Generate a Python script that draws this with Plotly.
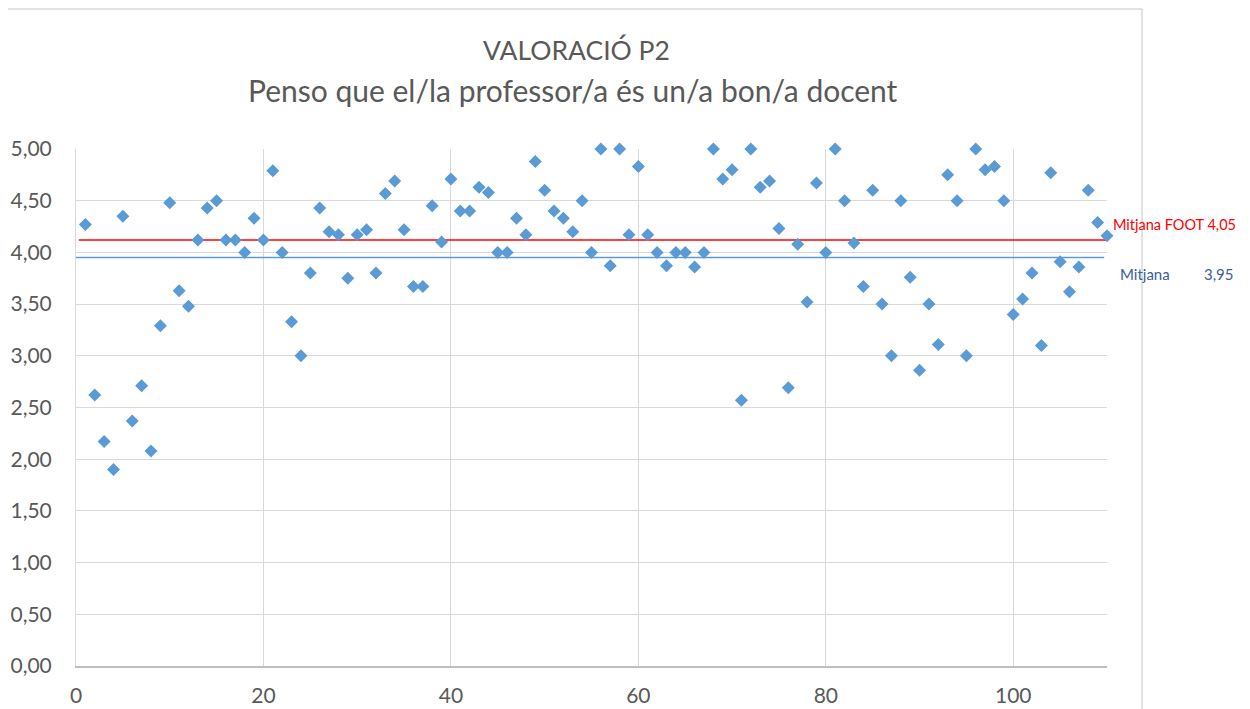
## Scatter of ratings for question P2 with the two mean lines

import plotly.graph_objects as go

# Ratings, one per respondent (x = 1..110)
ratings = [
    4.27, 2.62, 2.17, 1.90, 4.35, 2.37, 2.71, 2.08, 3.29, 4.48,
    3.63, 3.48, 4.12, 4.43, 4.50, 4.12, 4.12, 4.00, 4.33, 4.12,
    4.79, 4.00, 3.33, 3.00, 3.80, 4.43, 4.20, 4.17, 3.75, 4.17,
    4.22, 3.80, 4.57, 4.69, 4.22, 3.67, 3.67, 4.45, 4.10, 4.71,
    4.40, 4.40, 4.63, 4.58, 4.00, 4.00, 4.33, 4.17, 4.88, 4.60,
    4.40, 4.33, 4.20, 4.50, 4.00, 5.00, 3.87, 5.00, 4.17, 4.83,
    4.17, 4.00, 3.87, 4.00, 4.00, 3.86, 4.00, 5.00, 4.71, 4.80,
    2.57, 5.00, 4.63, 4.69, 4.23, 2.69, 4.08, 3.52, 4.67, 4.00,
    5.00, 4.50, 4.09, 3.67, 4.60, 3.50, 3.00, 4.50, 3.76, 2.86,
    3.50, 3.11, 4.75, 4.50, 3.00, 5.00, 4.80, 4.83, 4.50, 3.40,
    3.55, 3.80, 3.10, 4.77, 3.91, 3.62, 3.86, 4.60, 4.29, 4.16,
]
respondents = list(range(1, len(ratings) + 1))

# Mean lines (value drawn, label shown)
mean_foot_x = [0.3, 110.3]
mean_foot_y = [4.12, 4.12]
mean_foot_label = "Mitjana FOOT 4,05"
mean_x = [0, 109.7]
mean_y = [3.95, 3.95]
mean_label = "Mitjana"
mean_label_value = "3,95"

title_line1 = "VALORACIÓ P2"
title_line2 = "Penso que el/la professor/a és un/a bon/a docent"

FONT = "Lato"
GREY_TEXT = "#595959"

fig = go.Figure()

fig.add_trace(go.Scatter(
    x=mean_foot_x, y=mean_foot_y, mode="lines",
    line=dict(color="#FF0000", width=1.5), hoverinfo="skip",
))
fig.add_trace(go.Scatter(
    x=mean_x, y=mean_y, mode="lines",
    line=dict(color="#5B9BD5", width=1.5), hoverinfo="skip",
))
fig.add_trace(go.Scatter(
    x=respondents, y=ratings, mode="markers",
    marker=dict(symbol="diamond", size=10, color="#5B9BD5"),
    cliponaxis=False,
))

# pixel helpers (page pixels): plot area spans x 76..1107, y 149..666
def px_x(p):
    return (p - 76) / 1031

def px_y(p):
    return (666 - p) / 517

# page has an 8px body margin, so the figure is offset by 8px
fig.update_layout(
    width=1234,
    height=701,
    showlegend=False,
    plot_bgcolor="white",
    paper_bgcolor="white",
    separators=",.",
    margin=dict(l=68, r=135, t=141, b=43),
    font=dict(family=FONT, color=GREY_TEXT),
    xaxis=dict(
        range=[0, 110], dtick=20, tick0=0,
        showgrid=True, gridcolor="#D9D9D9", gridwidth=1,
        showline=True, linecolor="#BFBFBF", linewidth=1.5,
        zeroline=False, ticks="", automargin=False,
        tickfont=dict(family=FONT, size=21, color=GREY_TEXT),
        ticklabelstandoff=10,
    ),
    yaxis=dict(
        range=[0, 5], dtick=0.5, tick0=0, tickformat=".2f",
        showgrid=True, gridcolor="#D9D9D9", gridwidth=1,
        showline=True, linecolor="#D9D9D9", linewidth=1,
        zeroline=False, ticks="", automargin=False,
        tickfont=dict(family=FONT, size=21, color=GREY_TEXT),
        ticklabelstandoff=19,
    ),
)

# chart-area border (left, top, right)
border = dict(color="#D9D9D9", width=1.5)
fig.add_shape(type="line", xref="paper", yref="paper",
              x0=px_x(7), x1=px_x(7), y0=px_y(9), y1=px_y(712), line=border)
fig.add_shape(type="line", xref="paper", yref="paper",
              x0=px_x(7), x1=px_x(1142), y0=px_y(9), y1=px_y(9), line=border)
fig.add_shape(type="line", xref="paper", yref="paper",
              x0=px_x(1142), x1=px_x(1142), y0=px_y(9), y1=px_y(712), line=border)

# titles
fig.add_annotation(text=title_line1, xref="paper", yref="paper",
                   x=px_x(576), y=px_y(50), xanchor="center", yanchor="middle",
                   showarrow=False,
                   font=dict(family=FONT, size=26.5, color=GREY_TEXT))
fig.add_annotation(text=title_line2, xref="paper", yref="paper",
                   x=px_x(573), y=px_y(90), xanchor="center", yanchor="middle",
                   showarrow=False,
                   font=dict(family=FONT, size=30, color=GREY_TEXT))

# mean labels
fig.add_annotation(text=mean_foot_label, xref="paper", yref="paper",
                   x=px_x(1111), y=px_y(224), xanchor="left", yanchor="middle",
                   showarrow=False,
                   font=dict(family=FONT, size=14.5, color="#FF0000"))
fig.add_annotation(text=mean_label, xref="paper", yref="paper",
                   x=px_x(1118), y=px_y(274), xanchor="left", yanchor="middle",
                   showarrow=False,
                   font=dict(family=FONT, size=15, color="#3B5EA0"))
fig.add_annotation(text=mean_label_value, xref="paper", yref="paper",
                   x=px_x(1202), y=px_y(274), xanchor="left", yanchor="middle",
                   showarrow=False,
                   font=dict(family=FONT, size=15, color="#3B5EA0"))

fig.write_html("out.html")
